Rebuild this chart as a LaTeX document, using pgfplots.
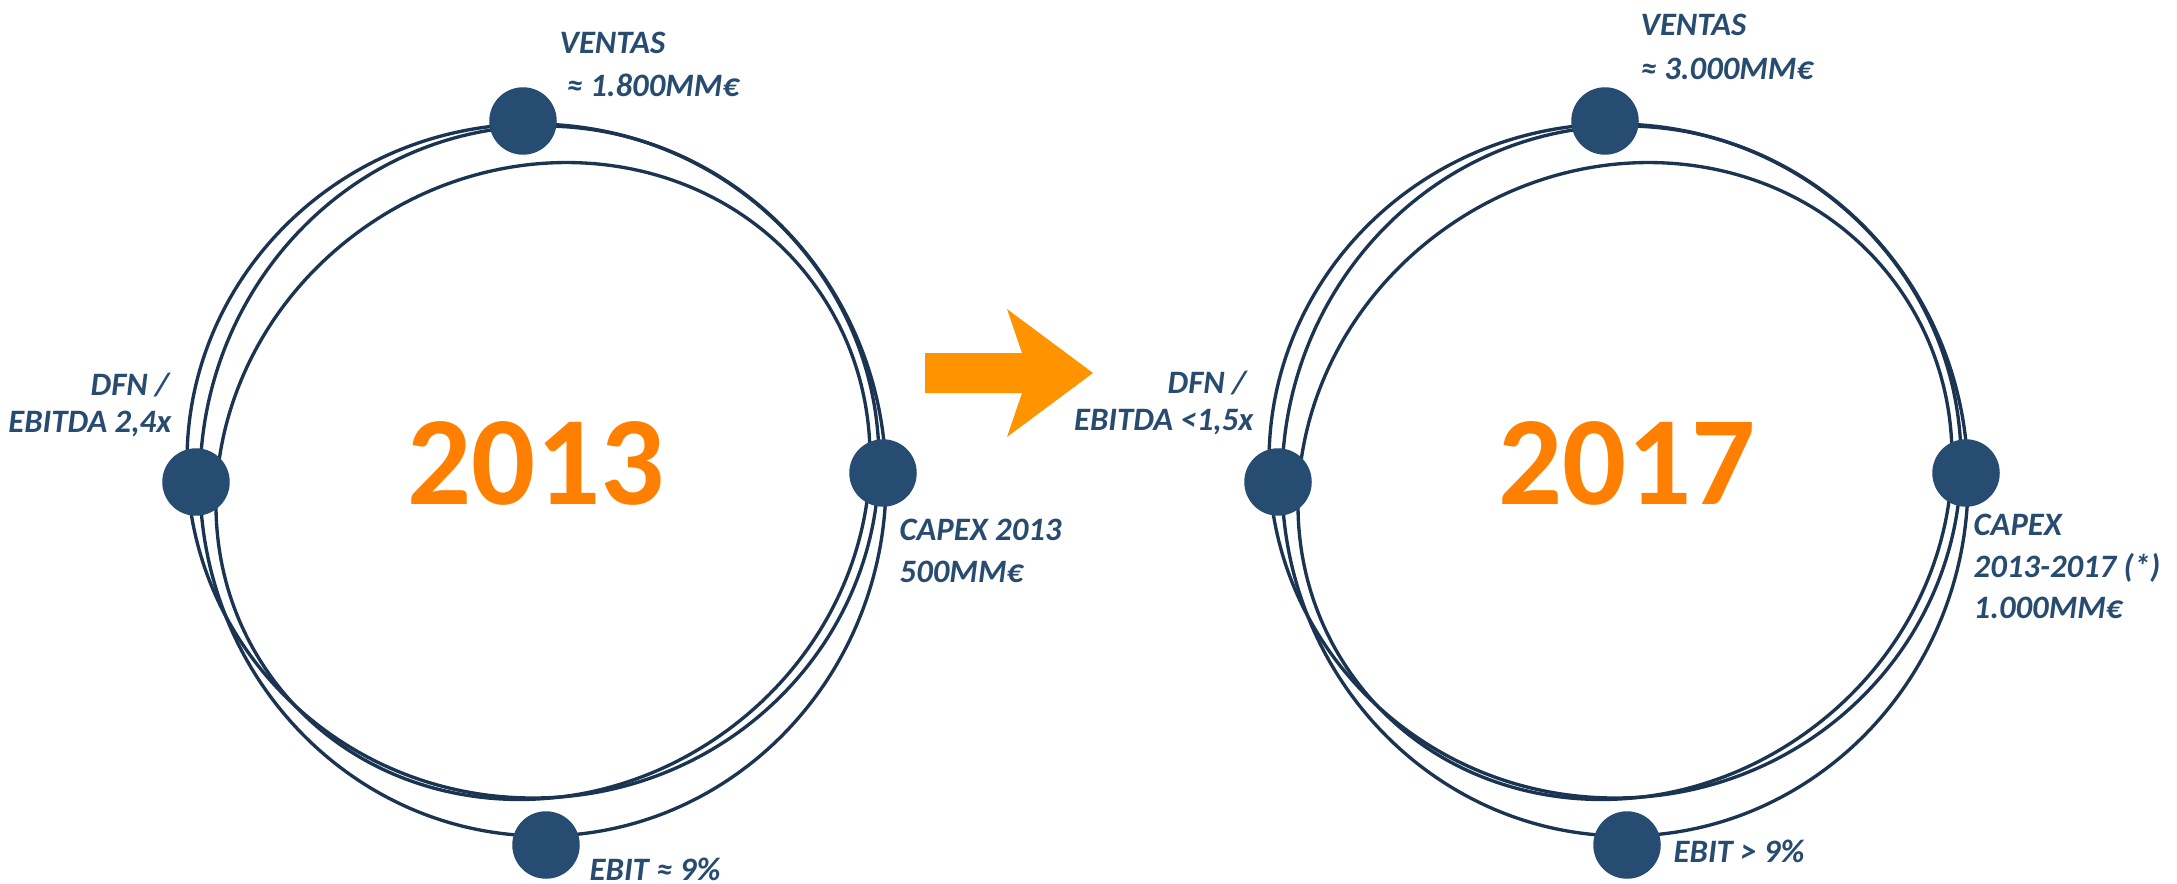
\documentclass[border=0pt]{standalone}
\usepackage{fontspec}
\setmainfont{Carlito}
\usepackage{pgfplots}
\pgfplotsset{compat=1.18}
\definecolor{ring}{RGB}{27,52,82}
\definecolor{dot}{RGB}{39,76,114}
\definecolor{lbl}{RGB}{40,75,112}
\definecolor{yr}{RGB}{255,128,0}
\definecolor{arr}{RGB}{255,147,0}
\tikzset{
  lab/.style={font=\fontsize{9.3}{11}\selectfont\bfseries\itshape, text=lbl, inner sep=0pt},
  rl/.style={draw=ring, line width=0.95pt}}
\begin{document}
\begin{tikzpicture}
\begin{axis}[hide axis, scale only axis, width=21.77cm, height=8.83cm,
  xmin=0, xmax=2177, ymin=0, ymax=883, y dir=reverse, clip=false]
\path (axis cs:0,0) rectangle (axis cs:2177,883);
% left ring
\draw[rl] (axis cs:543,481) ellipse [x radius=343, y radius=355];
\draw[rl] (axis cs:533,461) ellipse [x radius=346, y radius=337];
\draw[rl, rotate around={35:(axis cs:543,481)}] (axis cs:543,481) ellipse [x radius=335, y radius=310];
% right ring
\draw[rl] (axis cs:1625,481) ellipse [x radius=343, y radius=355];
\draw[rl] (axis cs:1615,461) ellipse [x radius=346, y radius=337];
\draw[rl, rotate around={35:(axis cs:1625,481)}] (axis cs:1625,481) ellipse [x radius=335, y radius=310];
% arrow
\addplot[draw=none, fill=arr] coordinates {(925,353) (1022,353) (1007,309) (1093,373) (1007,437) (1022,393) (925,393)} -- cycle;
% dots
\addplot[only marks, mark=*, mark size=9.4pt, mark options={draw=dot, fill=dot}] coordinates {
(523,121) (196,482) (883,473) (546,845)
(1605,121) (1278,482) (1966,473) (1627,845)};
% years
\node[font=\fontsize{36}{40}\selectfont\bfseries, text=yr, inner sep=0pt] at (axis cs:536,463) {2013};
\node[font=\fontsize{36}{40}\selectfont\bfseries, text=yr, inner sep=0pt] at (axis cs:1627,463) {2017};
% labels left
\node[lab, anchor=base west] at (axis cs:559,54) {VENTAS};
\node[lab, anchor=base west] at (axis cs:566,97) {≈ 1.800MM€};
\node[lab, anchor=base east] at (axis cs:170,395) {DFN /};
\node[lab, anchor=base east] at (axis cs:172,432) {EBITDA 2,4x};
\node[lab, anchor=base west] at (axis cs:899,540) {CAPEX 2013};
\node[lab, anchor=base west] at (axis cs:899,582) {500MM€};
\node[lab, anchor=base west] at (axis cs:589,880) {EBIT ≈ 9\%};
% labels right
\node[lab, anchor=base west] at (axis cs:1640,36) {VENTAS};
\node[lab, anchor=base west] at (axis cs:1640,80) {≈ 3.000MM€};
\node[lab, anchor=base east] at (axis cs:1247,393) {DFN /};
\node[lab, anchor=base east] at (axis cs:1254,430) {EBITDA <1,5x};
\node[lab, anchor=base west] at (axis cs:1973,535) {CAPEX};
\node[lab, anchor=base west] at (axis cs:1973,577) {2013-2017 (*)};
\node[lab, anchor=base west] at (axis cs:1973,618) {1.000MM€};
\node[lab, anchor=base west] at (axis cs:1673,862) {EBIT > 9\%};
\end{axis}
\end{tikzpicture}
\end{document}
